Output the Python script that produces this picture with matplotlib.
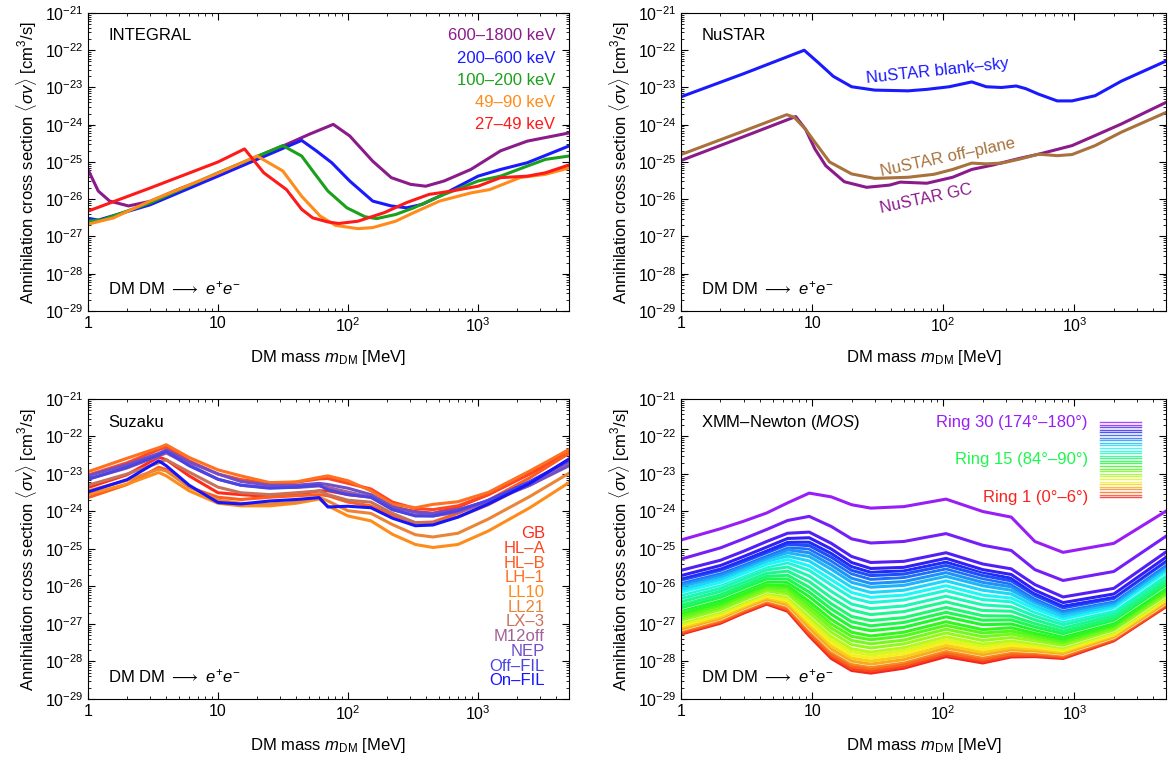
import numpy as np
import matplotlib
matplotlib.use("Agg")
import matplotlib.pyplot as plt
import matplotlib.patheffects as pe
from matplotlib.colors import hsv_to_rgb
from matplotlib.ticker import LogLocator, NullFormatter

plt.rcParams['font.family'] = ['Liberation Sans', 'DejaVu Sans']
plt.rcParams['mathtext.fontset'] = 'custom'
plt.rcParams['mathtext.rm'] = 'Liberation Sans'
plt.rcParams['mathtext.it'] = 'Liberation Sans:italic'
plt.rcParams['mathtext.bf'] = 'Liberation Sans:bold'

# ---------------- INTEGRAL (log10 <sigma v>) ----------------
int_labels = ["600–1800 keV", "200–600 keV", "100–200 keV", "49–90 keV", "27–49 keV"]
int_colors = ["#8b1a8b", "#1a1aff", "#1aa01a", "#ff8c1a", "#ff1a1a"]
int_mass = [
    [1, 1.2, 1.47, 2.05, 3.06, 4.9, 10, 16, 22.5, 33.6, 50, 77, 103, 155, 215, 303, 396, 548, 880, 1490, 2390, 5000],
    [1, 1.2, 3, 10, 20, 44, 57, 75, 103, 155, 215, 282, 370, 505, 1000, 1490, 2390, 5000],
    [1, 1.3, 3, 10, 20, 31.5, 44, 53.5, 70, 98, 135, 166, 232, 320, 505, 1000, 1490, 2390, 3300, 5000],
    [1, 1.57, 3, 10, 20, 31.5, 44, 61, 80, 119, 155, 232, 320, 505, 880, 1230, 2100, 3300, 5000],
    [1, 3, 10, 16, 22.5, 33.6, 44, 53.5, 70, 85, 119, 190, 282, 420, 625, 1000, 1490, 2390, 3300, 5000],
]
int_logsv = [
    [-25.2, -25.78, -26.05, -26.18, -26.05, -25.74, -25.33, -25.02, -24.78, -24.53, -24.26, -23.99,
     -24.3, -24.98, -25.42, -25.6, -25.65, -25.51, -25.2, -24.7, -24.44, -24.22],
    [-26.51, -26.56, -26.15, -25.38, -24.93, -24.42, -24.7, -25.02, -25.51, -26.05, -26.18, -26.23,
     -26.14, -25.92, -25.38, -25.2, -25.02, -24.57],
    [-26.59, -26.55, -26.1, -25.29, -24.85, -24.56, -24.84, -25.24, -25.78, -26.23, -26.47, -26.52,
     -26.41, -26.23, -25.92, -25.51, -25.38, -25.11, -24.93, -24.84],
    [-26.67, -26.5, -26.05, -25.3, -24.84, -25.24, -25.92, -26.45, -26.7, -26.79, -26.76, -26.59,
     -26.36, -26.05, -25.83, -25.74, -25.42, -25.33, -25.16],
    [-26.32, -25.7, -25.0, -24.65, -25.29, -25.74, -26.27, -26.5, -26.61, -26.65, -26.59, -26.36,
     -26.09, -25.87, -25.78, -25.65, -25.42, -25.38, -25.29, -25.08],
]

# ---------------- NuSTAR ----------------
nu_blank_mass = [1, 3, 8.7, 11.2, 14.5, 20, 30, 54, 75, 111, 165, 213, 278, 360, 425, 535, 740, 960, 1440, 2280, 5000]
nu_blank_logsv = [-23.25, -22.63, -22.0, -22.34, -22.7, -22.98, -23.07, -23.09, -23.05, -22.98, -22.85,
                  -22.98, -23.0, -22.96, -23.03, -23.18, -23.36, -23.36, -23.22, -22.83, -22.29]
nu_off_mass = [1, 3, 6.4, 7.3, 8.9, 10.5, 13.6, 20, 30, 54, 85, 118, 165, 213, 278, 385, 535, 740, 960, 1440, 2280, 5000]
nu_off_logsv = [-24.8, -24.17, -23.73, -23.8, -24.12, -24.47, -25.0, -25.32, -25.44, -25.41, -25.33, -25.2,
                -25.03, -25.05, -25.03, -24.92, -24.79, -24.83, -24.8, -24.56, -24.2, -23.67]
nu_gc_mass = [1, 3, 7.5, 8.9, 10.5, 12.7, 17.6, 26, 39, 47, 75, 118, 165, 240, 385, 535, 960, 1440, 2280, 5000]
nu_gc_logsv = [-24.96, -24.32, -23.78, -24.12, -24.65, -25.1, -25.53, -25.68, -25.62, -25.54, -25.57,
               -25.41, -25.2, -25.08, -24.9, -24.79, -24.56, -24.29, -23.98, -23.4]

# ---------------- Suzaku ----------------
suz_mass = [1, 2, 3.5, 4, 6, 10, 15, 25, 40, 60, 70, 100, 150, 220, 330, 450, 700, 1200, 2500, 5000]
suz_labels = ["GB", "HL–A", "HL–B", "LH–1", "LL10", "LL21", "LX–3", "M12off", "NEP", "Off–FIL", "On–FIL"]
suz_colors = ["#ff2a1a", "#ff4522", "#ff5c1e", "#ff7020", "#ff8c1a", "#ec8436", "#c8725a",
              "#a2609a", "#7050c8", "#4a44e6", "#1414ff"]
suz_logsv = [
    [-23.36, -23.02, -22.55, -22.62, -23.05, -23.5, -23.55, -23.6, -23.55, -23.45, -23.45, -23.55, -23.62,
     -23.88, -24.0, -24.05, -23.88, -23.55, -22.98, -22.35],
    [-23.03, -22.7, -22.35, -22.28, -22.65, -23.0, -23.15, -23.25, -23.22, -23.13, -23.12, -23.25, -23.4,
     -23.75, -23.92, -23.95, -23.85, -23.55, -23.0, -22.45],
    [-23.63, -23.28, -22.82, -22.88, -23.35, -23.62, -23.68, -23.62, -23.58, -23.55, -23.58, -23.75, -23.85,
     -24.1, -24.3, -24.28, -24.05, -23.7, -23.1, -22.45],
    [-22.94, -22.58, -22.3, -22.22, -22.56, -22.89, -23.05, -23.23, -23.21, -23.09, -23.05, -23.18, -23.45,
     -23.81, -23.9, -23.81, -23.74, -23.49, -22.92, -22.35],
    [-23.54, -23.27, -22.96, -23.05, -23.45, -23.78, -23.85, -23.85, -23.78, -23.67, -23.85, -24.12, -24.25,
     -24.61, -24.88, -24.96, -24.88, -24.52, -23.9, -23.23],
    [-23.45, -23.17, -22.87, -22.92, -23.35, -23.7, -23.78, -23.8, -23.75, -23.62, -23.72, -23.98, -24.05,
     -24.35, -24.62, -24.68, -24.58, -24.2, -23.6, -22.98],
    [-23.3, -23.0, -22.7, -22.62, -22.95, -23.35, -23.5, -23.55, -23.5, -23.45, -23.55, -23.7, -23.75,
     -24.05, -24.3, -24.3, -24.15, -23.82, -23.25, -22.62],
    [-23.14, -22.84, -22.52, -22.44, -22.75, -23.14, -23.3, -23.36, -23.36, -23.32, -23.36, -23.48, -23.62,
     -23.95, -24.1, -24.12, -24.02, -23.76, -23.3, -22.72],
    [-23.05, -22.75, -22.45, -22.36, -22.68, -23.0, -23.2, -23.3, -23.3, -23.25, -23.28, -23.38, -23.55,
     -23.88, -24.02, -24.05, -23.95, -23.72, -23.3, -22.78],
    [-23.14, -22.82, -22.5, -22.4, -22.78, -23.14, -23.3, -23.38, -23.35, -23.3, -23.42, -23.55, -23.62,
     -23.95, -24.12, -24.12, -23.98, -23.7, -23.2, -22.65],
    [-23.48, -23.15, -22.65, -22.78, -23.3, -23.76, -23.8, -23.72, -23.68, -23.63, -23.88, -23.86, -23.9,
     -24.18, -24.38, -24.36, -24.15, -23.8, -23.25, -22.6],
]

# ---------------- XMM-Newton MOS, rings 1..30 ----------------
xmm_mass = [1, 2, 3, 4.5, 6.5, 9.5, 14, 20, 28, 50, 105, 200, 330, 500, 820, 2000, 5000]
xmm_logsv = [
    [-27.27, -26.98, -26.71, -26.47, -26.66, -27.32, -27.92, -28.24, -28.31, -28.18, -27.87, -28.04, -27.88, -27.87, -27.92, -27.45, -26.54],
    [-27.24, -26.95, -26.68, -26.44, -26.62, -27.27, -27.86, -28.19, -28.26, -28.13, -27.82, -27.99, -27.84, -27.84, -27.89, -27.43, -26.52],
    [-27.21, -26.92, -26.65, -26.41, -26.59, -27.22, -27.81, -28.13, -28.20, -28.08, -27.77, -27.94, -27.80, -27.80, -27.86, -27.40, -26.49],
    [-27.17, -26.89, -26.62, -26.38, -26.54, -27.16, -27.74, -28.06, -28.14, -28.01, -27.71, -27.88, -27.74, -27.76, -27.83, -27.37, -26.46],
    [-27.14, -26.85, -26.58, -26.34, -26.49, -27.10, -27.67, -27.99, -28.07, -27.95, -27.64, -27.82, -27.69, -27.72, -27.79, -27.35, -26.43],
    [-27.09, -26.81, -26.54, -26.30, -26.44, -27.02, -27.58, -27.91, -27.99, -27.87, -27.57, -27.75, -27.63, -27.67, -27.75, -27.31, -26.39],
    [-27.05, -26.76, -26.50, -26.26, -26.38, -26.95, -27.50, -27.83, -27.91, -27.79, -27.49, -27.68, -27.57, -27.62, -27.71, -27.28, -26.35],
    [-27.00, -26.72, -26.45, -26.21, -26.33, -26.87, -27.42, -27.74, -27.83, -27.71, -27.42, -27.60, -27.50, -27.57, -27.67, -27.24, -26.32],
    [-26.96, -26.67, -26.41, -26.17, -26.27, -26.80, -27.33, -27.66, -27.75, -27.63, -27.34, -27.53, -27.44, -27.52, -27.63, -27.20, -26.28],
    [-26.90, -26.62, -26.36, -26.12, -26.20, -26.70, -27.22, -27.55, -27.64, -27.53, -27.24, -27.44, -27.36, -27.45, -27.57, -27.16, -26.23],
    [-26.84, -26.56, -26.30, -26.06, -26.13, -26.60, -27.11, -27.44, -27.53, -27.43, -27.14, -27.34, -27.27, -27.38, -27.51, -27.11, -26.18],
    [-26.78, -26.50, -26.24, -26.00, -26.05, -26.50, -27.00, -27.33, -27.42, -27.32, -27.04, -27.24, -27.19, -27.31, -27.46, -27.06, -26.13],
    [-26.72, -26.44, -26.19, -25.95, -25.98, -26.40, -26.88, -27.22, -27.32, -27.22, -26.94, -27.15, -27.10, -27.25, -27.40, -27.02, -26.08],
    [-26.64, -26.37, -26.11, -25.87, -25.89, -26.27, -26.74, -27.08, -27.18, -27.09, -26.81, -27.02, -27.00, -27.16, -27.33, -26.96, -26.02],
    [-26.57, -26.29, -26.04, -25.80, -25.80, -26.15, -26.60, -26.94, -27.05, -26.96, -26.69, -26.90, -26.89, -27.08, -27.26, -26.90, -25.96],
    [-26.50, -26.22, -25.97, -25.73, -25.70, -26.02, -26.46, -26.80, -26.91, -26.83, -26.56, -26.78, -26.79, -26.99, -27.19, -26.84, -25.90],
    [-26.41, -26.13, -25.89, -25.65, -25.59, -25.87, -26.30, -26.63, -26.75, -26.67, -26.41, -26.64, -26.66, -26.89, -27.11, -26.77, -25.82],
    [-26.32, -26.05, -25.80, -25.56, -25.48, -25.72, -26.13, -26.47, -26.59, -26.52, -26.26, -26.49, -26.54, -26.79, -27.02, -26.70, -25.75],
    [-26.23, -25.96, -25.72, -25.48, -25.37, -25.57, -25.96, -26.30, -26.43, -26.36, -26.11, -26.35, -26.41, -26.69, -26.94, -26.63, -25.67],
    [-26.15, -25.89, -25.65, -25.41, -25.28, -25.45, -25.82, -26.16, -26.29, -26.23, -25.98, -26.23, -26.31, -26.60, -26.87, -26.57, -25.61],
    [-26.08, -25.81, -25.57, -25.33, -25.19, -25.32, -25.68, -26.02, -26.16, -26.10, -25.85, -26.10, -26.20, -26.52, -26.80, -26.51, -25.55],
    [-26.00, -25.74, -25.50, -25.26, -25.10, -25.20, -25.54, -25.89, -26.02, -25.97, -25.73, -25.98, -26.10, -26.43, -26.73, -26.46, -25.49],
    [-25.94, -25.68, -25.45, -25.21, -25.02, -25.10, -25.43, -25.78, -25.92, -25.87, -25.63, -25.89, -26.01, -26.37, -26.67, -26.41, -25.44],
    [-25.88, -25.62, -25.39, -25.15, -24.95, -25.00, -25.32, -25.66, -25.81, -25.76, -25.53, -25.79, -25.93, -26.30, -26.62, -26.36, -25.39],
    [-25.83, -25.57, -25.34, -25.10, -24.88, -24.91, -25.22, -25.57, -25.71, -25.67, -25.44, -25.71, -25.85, -26.24, -26.57, -26.32, -25.34],
    [-25.78, -25.52, -25.29, -25.05, -24.82, -24.82, -25.12, -25.47, -25.62, -25.58, -25.35, -25.62, -25.78, -26.18, -26.52, -26.28, -25.30],
    [-25.71, -25.44, -25.20, -24.95, -24.72, -24.70, -25.00, -25.36, -25.52, -25.49, -25.25, -25.55, -25.68, -26.10, -26.43, -26.20, -25.22],
    [-25.57, -25.30, -25.06, -24.80, -24.58, -24.55, -24.85, -25.20, -25.36, -25.33, -25.10, -25.40, -25.53, -25.95, -26.28, -26.05, -25.08],
    [-25.27, -24.97, -24.73, -24.48, -24.24, -24.13, -24.40, -24.73, -24.84, -24.80, -24.59, -24.90, -25.04, -25.55, -25.84, -25.60, -24.66],
    [-24.76, -24.46, -24.26, -24.04, -23.77, -23.51, -23.61, -23.82, -23.91, -23.87, -23.67, -24.00, -24.15, -24.80, -25.09, -24.85, -23.99],
]

x_ticks = [1, 10, 100, 1000]
x_ticklabels = ["1", "10", r"$10^2$", r"$10^3$"]
y_exps = list(range(-29, -20))

LW = 2.2
FS = 12


def style(ax, name):
    ax.set_xscale('log')
    ax.set_yscale('log')
    ax.set_xlim(1, 5000)
    ax.set_ylim(1e-29, 1e-21)
    ax.set_xticks(x_ticks)
    ax.set_xticklabels(x_ticklabels)
    ax.set_yticks([10.0**e for e in y_exps])
    ax.set_yticklabels([r"$10^{%d}$" % e for e in y_exps])
    ax.xaxis.set_minor_locator(LogLocator(base=10, subs=np.arange(2, 10), numticks=100))
    ax.yaxis.set_minor_locator(LogLocator(base=10, subs=np.arange(2, 10), numticks=100))
    ax.xaxis.set_minor_formatter(NullFormatter())
    ax.yaxis.set_minor_formatter(NullFormatter())
    ax.tick_params(which='both', direction='in', top=True, right=True, labelsize=11.5)
    ax.tick_params(which='major', length=5, width=0.8)
    ax.tick_params(which='minor', length=2.5, width=0.6)
    ax.set_xlabel(r"DM mass $m_{\rm DM}$ [MeV]", fontsize=FS, labelpad=10)
    ax.set_ylabel(r"Annihilation cross section $\langle\sigma v\rangle$ [cm$^3$/s]", fontsize=FS, labelpad=4)
    ax.text(0.042, 0.923, name, transform=ax.transAxes, fontsize=FS, va='center')
    ax.text(0.042, 0.075, r"DM DM $\longrightarrow$ $e^{+}e^{-}$", transform=ax.transAxes,
            fontsize=FS, va='center')


fig = plt.figure(figsize=(11.76, 7.6), dpi=100)
ax1 = fig.add_axes([0.0748, 0.5908, 0.409, 0.3921])
ax2 = fig.add_axes([0.5791, 0.5908, 0.4124, 0.3921])
ax3 = fig.add_axes([0.0748, 0.0803, 0.409, 0.3947])
ax4 = fig.add_axes([0.5791, 0.0803, 0.4124, 0.3947])

# INTEGRAL
style(ax1, "INTEGRAL")
for m, s, c in zip(int_mass, int_logsv, int_colors):
    ax1.plot(m, 10.0**np.array(s), color=c, lw=LW)
for i, (lab, c) in enumerate(zip(int_labels, int_colors)):
    ax1.text(0.971, 0.923 - 0.0745 * i, lab, color=c, transform=ax1.transAxes,
             ha='right', va='center', fontsize=FS)

# NuSTAR
style(ax2, "NuSTAR")
ax2.plot(nu_blank_mass, 10.0**np.array(nu_blank_logsv), color="#1a1aff", lw=LW)
ax2.plot(nu_gc_mass, 10.0**np.array(nu_gc_logsv), color="#8b1a8b", lw=LW)
ax2.plot(nu_off_mass, 10.0**np.array(nu_off_logsv), color="#a8723c", lw=LW)
ax2.text(91, 10**-22.56, "NuSTAR blank–sky", color="#1a1aff", fontsize=FS,
         rotation=6, ha='center', va='center')
ax2.text(109, 10**-24.88, "NuSTAR off–plane", color="#a8723c", fontsize=FS,
         rotation=12, ha='center', va='center')
ax2.text(73.5, 10**-25.99, "NuSTAR GC", color="#8b1a8b", fontsize=FS,
         rotation=12, ha='center', va='center')

# Suzaku
style(ax3, "Suzaku")
for s, c in zip(suz_logsv, suz_colors):
    ax3.plot(suz_mass, 10.0**np.array(s), color=c, lw=LW)
for i, (lab, c) in enumerate(zip(suz_labels, suz_colors)):
    ax3.text(0.95, 0.55 - 0.0489 * i, lab, color=c, transform=ax3.transAxes,
             ha='right', va='center', fontsize=FS)

# XMM-Newton
style(ax4, r"XMM–Newton ($MOS$)")
n_rings = len(xmm_logsv)
ring_colors = [hsv_to_rgb((0.005 + 0.755 * k / (n_rings - 1), 0.88, 0.97)) for k in range(n_rings)]
for k, (s, c) in enumerate(zip(xmm_logsv, ring_colors)):
    # only the few top rings show a visible white edge
    edge = [pe.Stroke(linewidth=LW + 0.6, foreground='white'), pe.Normal()] if k % 5 == 4 or k > 25 else None
    ax4.plot(xmm_mass, 10.0**np.array(s), color=c, lw=LW, path_effects=edge)
for k, c in enumerate(ring_colors):
    yy = 0.673 + (0.923 - 0.673) * k / (n_rings - 1)
    ax4.plot([0.864, 0.948], [yy, yy], color=c, lw=1.0, alpha=0.8, transform=ax4.transAxes)
ax4.text(0.839, 0.923, "Ring 30 (174°–180°)", color=ring_colors[29], transform=ax4.transAxes,
         ha='right', va='center', fontsize=FS)
ax4.text(0.839, 0.797, "Ring 15 (84°–90°)", color=ring_colors[14], transform=ax4.transAxes,
         ha='right', va='center', fontsize=FS)
ax4.text(0.839, 0.673, "Ring 1 (0°–6°)", color=ring_colors[0], transform=ax4.transAxes,
         ha='right', va='center', fontsize=FS)

fig.savefig("out.png", dpi=100)
